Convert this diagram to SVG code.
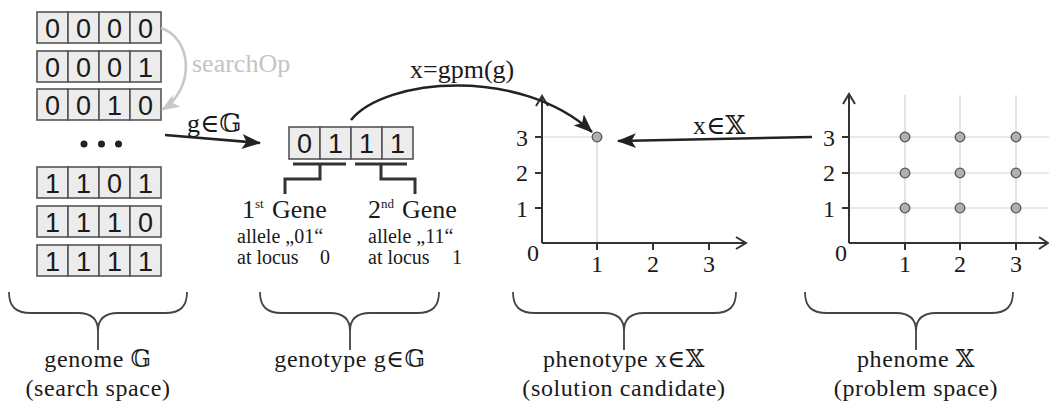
<svg xmlns="http://www.w3.org/2000/svg" width="1049" height="405" viewBox="0 0 1049 405">
<style>
.cell{fill:#ececec;stroke:#555;stroke-width:1.6}
.dig{font-family:"Liberation Sans","DejaVu Sans",sans-serif;font-size:27px;fill:#1a1a1a;text-anchor:middle}
.t{font-family:"Liberation Serif","DejaVu Serif","DejaVu Sans",serif;fill:#1a1a1a}
.big{font-size:26px}
.lab{font-size:24px;letter-spacing:0.6px;text-anchor:middle}
.sm{font-size:20px}
.num{font-size:24px;text-anchor:middle}
.axis{fill:none;stroke:#333;stroke-width:2}
.grid{fill:none;stroke:#d4d4d4;stroke-width:1.2}
.pt{fill:#b0b0b0;stroke:#555;stroke-width:1.3}
.brace{fill:none;stroke:#444;stroke-width:1.8}
.brk{fill:none;stroke:#333;stroke-width:3}
.conn{fill:none;stroke:#222;stroke-width:2.6}
</style>
<defs>
<marker id="ah" markerUnits="userSpaceOnUse" viewBox="0 0 19 15" refX="18" refY="7.5" markerWidth="19" markerHeight="15" orient="auto">
<path d="M0,0 L19,7.5 L0,15 L4.5,7.5 z" fill="#222"/>
</marker>
<marker id="ahg" markerUnits="userSpaceOnUse" viewBox="0 0 18 14" refX="17" refY="7" markerWidth="18" markerHeight="14" orient="auto">
<path d="M0,0 L18,7 L0,14 L4,7 z" fill="#c8c8c8"/>
</marker>
</defs>
<rect width="1049" height="405" fill="#fff"/>

<g id="genome">
<g>
<rect class="cell" x="37" y="12" width="31" height="31"/><rect class="cell" x="68" y="12" width="31" height="31"/><rect class="cell" x="99" y="12" width="31" height="31"/><rect class="cell" x="130" y="12" width="31" height="31"/>
<text class="dig" y="38"><tspan x="52.5">0</tspan><tspan x="83.5">0</tspan><tspan x="114.5">0</tspan><tspan x="145.5">0</tspan></text>
</g>
<g>
<rect class="cell" x="37" y="51" width="31" height="31"/><rect class="cell" x="68" y="51" width="31" height="31"/><rect class="cell" x="99" y="51" width="31" height="31"/><rect class="cell" x="130" y="51" width="31" height="31"/>
<text class="dig" y="77"><tspan x="52.5">0</tspan><tspan x="83.5">0</tspan><tspan x="114.5">0</tspan><tspan x="145.5">1</tspan></text>
</g>
<g>
<rect class="cell" x="37" y="89" width="31" height="31"/><rect class="cell" x="68" y="89" width="31" height="31"/><rect class="cell" x="99" y="89" width="31" height="31"/><rect class="cell" x="130" y="89" width="31" height="31"/>
<text class="dig" y="115"><tspan x="52.5">0</tspan><tspan x="83.5">0</tspan><tspan x="114.5">1</tspan><tspan x="145.5">0</tspan></text>
</g>
<circle cx="84" cy="144" r="3.5" fill="#222"/><circle cx="101.5" cy="144" r="3.5" fill="#222"/><circle cx="118.5" cy="144" r="3.5" fill="#222"/>
<g>
<rect class="cell" x="37" y="167" width="31" height="31"/><rect class="cell" x="68" y="167" width="31" height="31"/><rect class="cell" x="99" y="167" width="31" height="31"/><rect class="cell" x="130" y="167" width="31" height="31"/>
<text class="dig" y="193"><tspan x="52.5">1</tspan><tspan x="83.5">1</tspan><tspan x="114.5">0</tspan><tspan x="145.5">1</tspan></text>
</g>
<g>
<rect class="cell" x="37" y="206" width="31" height="31"/><rect class="cell" x="68" y="206" width="31" height="31"/><rect class="cell" x="99" y="206" width="31" height="31"/><rect class="cell" x="130" y="206" width="31" height="31"/>
<text class="dig" y="232"><tspan x="52.5">1</tspan><tspan x="83.5">1</tspan><tspan x="114.5">1</tspan><tspan x="145.5">0</tspan></text>
</g>
<g>
<rect class="cell" x="37" y="245" width="31" height="31"/><rect class="cell" x="68" y="245" width="31" height="31"/><rect class="cell" x="99" y="245" width="31" height="31"/><rect class="cell" x="130" y="245" width="31" height="31"/>
<text class="dig" y="271"><tspan x="52.5">1</tspan><tspan x="83.5">1</tspan><tspan x="114.5">1</tspan><tspan x="145.5">1</tspan></text>
</g>
<path class="brace" d="M9,292 C9,306 15,313 31,313 L78,313 C92,313 98,320 98,331 L98,350 M98,331 C98,320 104,313 118,313 L165,313 C181,313 187,306 187,292"/>
<text class="t lab" x="98" y="367">genome 𝔾</text>
<text class="t lab" x="98" y="396">(search space)</text>
</g>

<g id="genotype">
<rect class="cell" x="289" y="127" width="31" height="32"/><rect class="cell" x="320" y="127" width="31" height="32"/><rect class="cell" x="351" y="127" width="31" height="32"/><rect class="cell" x="382" y="127" width="31" height="32"/>
<text class="dig" y="153"><tspan x="304.5">0</tspan><tspan x="335.5">1</tspan><tspan x="366.5">1</tspan><tspan x="397.5">1</tspan></text>
<path class="brk" d="M293,164 L346,164 M320,164 L320,179 L285,179 L285,194"/>
<path class="brk" d="M355,164 L407,164 M381,164 L381,179 L415,179 L415,194"/>
<text class="t big" x="242" y="218">1<tspan font-size="13" dy="-10">st</tspan><tspan dy="10" x="272">Gene</tspan></text>
<text class="t sm" x="237" y="243">allele „01“</text>
<text class="t sm" y="264"><tspan x="237">at locus</tspan><tspan x="320">0</tspan></text>
<text class="t big" x="368" y="218">2<tspan font-size="13" dy="-10">nd</tspan><tspan dy="10" x="402">Gene</tspan></text>
<text class="t sm" x="368" y="243">allele „11“</text>
<text class="t sm" y="264"><tspan x="368">at locus</tspan><tspan x="452">1</tspan></text>
<path class="brace" d="M260,292 C260,306 266,313 282,313 L330,313 C344,313 350,320 350,331 L350,350 M350,331 C350,320 356,313 370,313 L417,313 C433,313 439,306 439,292"/>
<text class="t lab" x="350" y="367">genotype g∈𝔾</text>
</g>

<g id="phenotype">
<path class="grid" d="M542,137 L597,137 M597,137 L597,243"/>
<path class="axis" d="M542,243 L542,97 M542,243 L745,243"/>
<path class="axis" d="M536,106 L542,96 L548,106 M736,237 L746,243 L736,249"/>
<path class="axis" d="M535,137 L542,137 M535,173 L542,173 M535,208 L542,208 M597,243 L597,250 M653,243 L653,250 M709,243 L709,250"/>
<circle class="pt" cx="597" cy="137" r="4.8"/>
<text class="t num" x="522" y="146">3</text>
<text class="t num" x="522" y="181">2</text>
<text class="t num" x="522" y="217">1</text>
<text class="t num" x="533" y="261">0</text>
<text class="t num" x="597" y="272">1</text>
<text class="t num" x="653" y="272">2</text>
<text class="t num" x="709" y="272">3</text>
<path class="brace" d="M513,292 C513,306 519,313 535,313 L604,313 C618,313 624,320 624,331 L624,350 M624,331 C624,320 630,313 644,313 L714,313 C730,313 736,306 736,292"/>
<text class="t lab" x="624" y="367">phenotype x∈𝕏</text>
<text class="t lab" x="624" y="396">(solution candidate)</text>
</g>

<g id="phenome">
<path class="grid" d="M905,95 L905,243 M960,95 L960,243 M1016,95 L1016,243 M849,137 L1049,137 M849,173 L1049,173 M849,208 L1049,208"/>
<path class="axis" d="M849,243 L849,95 M849,243 L1047,243"/>
<path class="axis" d="M843,104 L849,94 L855,104 M1039,237 L1048,243 L1039,249"/>
<path class="axis" d="M842,137 L849,137 M842,173 L849,173 M842,208 L849,208 M905,243 L905,250 M960,243 L960,250 M1016,243 L1016,250"/>
<circle class="pt" cx="905" cy="137" r="4.8"/><circle class="pt" cx="960" cy="137" r="4.8"/><circle class="pt" cx="1016" cy="137" r="4.8"/>
<circle class="pt" cx="905" cy="173" r="4.8"/><circle class="pt" cx="960" cy="173" r="4.8"/><circle class="pt" cx="1016" cy="173" r="4.8"/>
<circle class="pt" cx="905" cy="208" r="4.8"/><circle class="pt" cx="960" cy="208" r="4.8"/><circle class="pt" cx="1016" cy="208" r="4.8"/>
<text class="t num" x="829" y="146">3</text>
<text class="t num" x="829" y="181">2</text>
<text class="t num" x="829" y="217">1</text>
<text class="t num" x="841" y="261">0</text>
<text class="t num" x="905" y="272">1</text>
<text class="t num" x="960" y="272">2</text>
<text class="t num" x="1016" y="272">3</text>
<path class="brace" d="M805,292 C805,306 811,313 827,313 L896,313 C910,313 916,320 916,331 L916,350 M916,331 C916,320 922,313 936,313 L991,313 C1007,313 1013,306 1013,292"/>
<text class="t lab" x="916" y="367">phenome 𝕏</text>
<text class="t lab" x="916" y="396">(problem space)</text>
</g>

<g id="connectors">
<path d="M161,28 C192,38 196,88 162,110" fill="none" stroke="#c8c8c8" stroke-width="2.6" marker-end="url(#ahg)"/>
<text class="t big" x="192" y="72" style="fill:#c4c4c4">searchOp</text>
<path class="conn" d="M165,135 L260,143" marker-end="url(#ah)"/>
<text class="t big" x="187" y="132">g∈𝔾</text>
<path class="conn" d="M351,120 C385,78 520,66 592,132" marker-end="url(#ah)"/>
<text class="t big" x="410" y="78">x=gpm(g)</text>
<path class="conn" d="M812,137 L618,141" marker-end="url(#ah)"/>
<text class="t big" x="693" y="134">x∈𝕏</text>
</g>
</svg>
